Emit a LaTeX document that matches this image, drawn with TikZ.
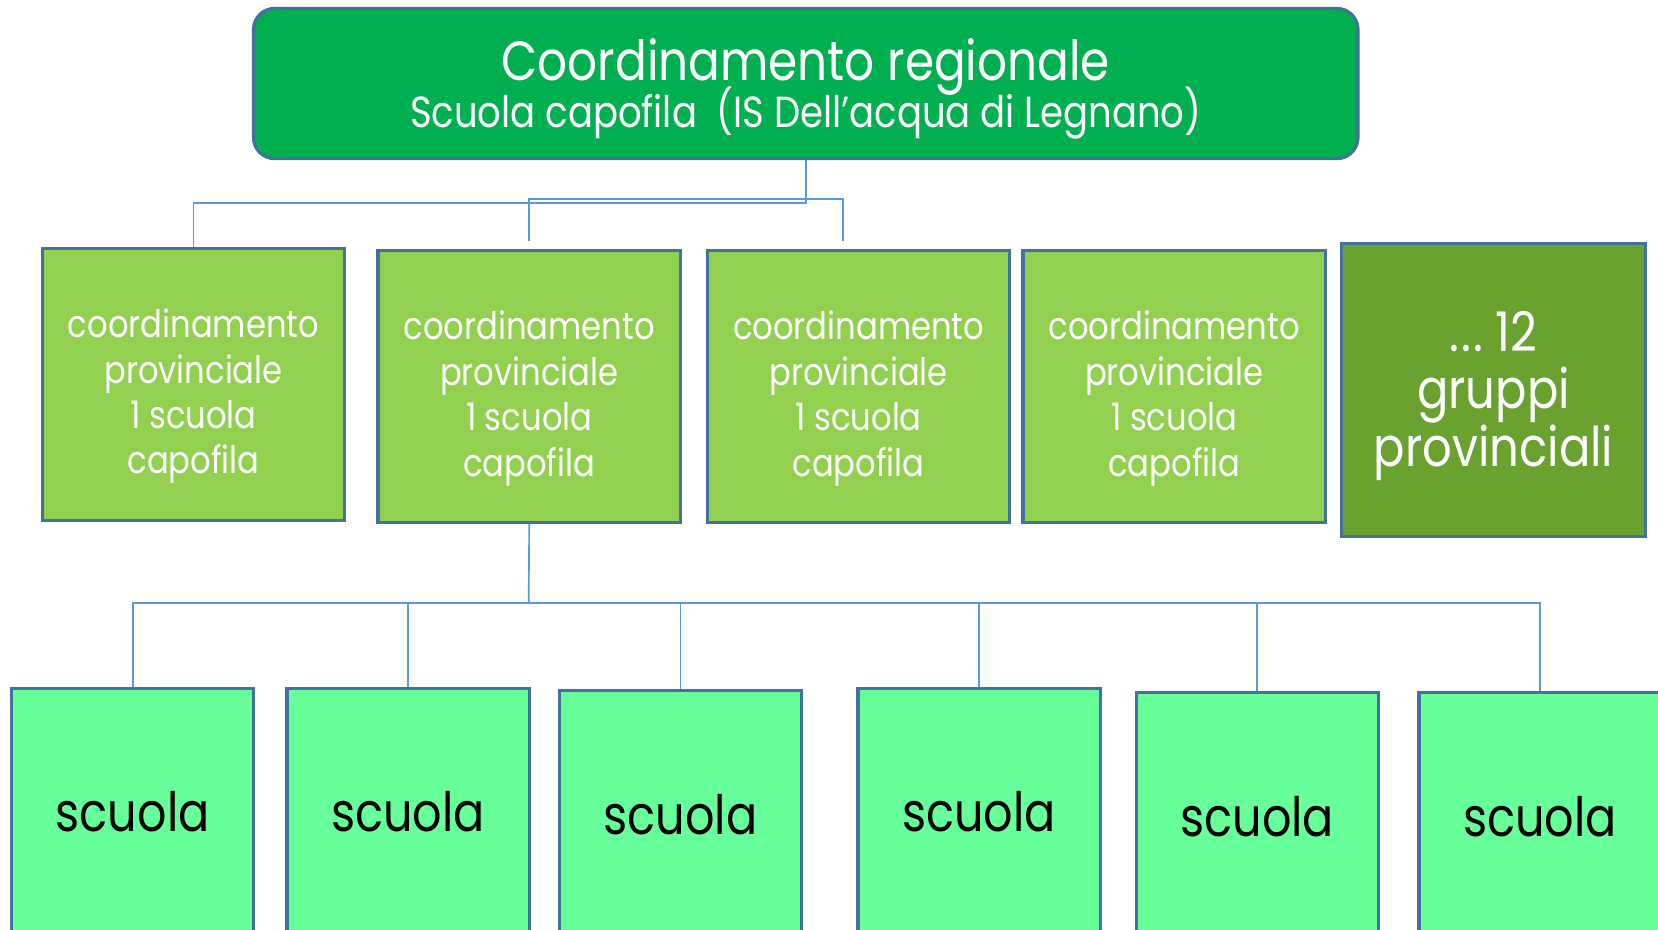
\documentclass[tikz,border=0pt]{standalone}
\usepackage{fontspec}
\setmainfont{Poppins}[FakeStretch=0.85]
\definecolor{edge}{HTML}{41719C}
\definecolor{link}{HTML}{5B9BD5}
\definecolor{regfill}{HTML}{00B050}
\definecolor{provfill}{HTML}{92D050}
\definecolor{groupfill}{HTML}{6AA22F}
\definecolor{schoolfill}{HTML}{66FF99}
\newcommand{\topgap}[1]{\rule{0pt}{#1}}
\begin{document}
\begin{tikzpicture}[x=0.01cm,y=-0.01cm,
    box/.style={draw=edge,line width=0.85pt,inner sep=0pt,align=center},
    prov/.style={box,fill=provfill,text=white,minimum width=2.86cm,minimum height=2.57cm,
      font=\fontsize{10.2}{12.2}\selectfont},
    school/.style={box,fill=schoolfill,text=black,minimum width=2.29cm,minimum height=2.34cm,
      font=\fontsize{14.6}{16}\selectfont},
    wire/.style={draw=link,line width=0.45pt}]
  \useasboundingbox (0,0) rectangle (1568,879);
  \clip (0,0) rectangle (1568,879);
  \node[box,fill=regfill,text=white,rounded corners=0.2cm,minimum width=10.44cm,minimum height=1.42cm]
    (reg) at (762,79)
    {\topgap{0.5cm}{\fontsize{14.85}{16}\selectfont Coordinamento regionale}\\[-3.5pt]
     {\fontsize{11.7}{13}\selectfont Scuola capofila\ \ (IS Dell’acqua di Legnano)}};
  \node[prov] (p1) at (183,363.5) {\topgap{0.5cm}coordinamento\\provinciale\\1 scuola\\capofila};
  \node[prov] (p2) at (500.5,365.5) {\topgap{0.5cm}coordinamento\\provinciale\\1 scuola\\capofila};
  \node[prov] (p3) at (812,365.5) {\topgap{0.5cm}coordinamento\\provinciale\\1 scuola\\capofila};
  \node[prov] (p4) at (1110.5,365.5) {\topgap{0.5cm}coordinamento\\provinciale\\1 scuola\\capofila};
  \node[box,fill=groupfill,text=white,minimum width=2.87cm,minimum height=2.77cm,
    font=\fontsize{14.7}{15.4}\selectfont] (g) at (1412.5,368.5)
    {\topgap{0.5cm}.\hspace{0.6pt}.\hspace{0.6pt}.\ 12\\gruppi\\provinciali};
  \node[school] (s1) at (125.5,768) {scuola};
  \node[school] (s2) at (386,768) {scuola};
  \node[school] (s3) at (643.5,770) {scuola};
  \node[school] (s4) at (926,768) {scuola};
  \node[school] (s5) at (1189,772) {scuola};
  \node[school] (s6) at (1456.5,772) {scuola};
  % links
  \coordinate (top) at (762,192);
  \coordinate (a1) at (500,228);
  \coordinate (a2) at (797,228);
  \coordinate (bend) at (797,188);
  \coordinate (hub) at (500,570);
  \draw[wire] (reg.south) -- (top) -| (p1.north);
  \draw[wire] (a1) |- (bend) -- (a2);
  \draw[wire] (p2.south) -- (hub);
  \foreach \s in {s1,s2,s3,s4,s5,s6}
    \draw[wire] (hub) -| (\s.north);
\end{tikzpicture}
\end{document}
